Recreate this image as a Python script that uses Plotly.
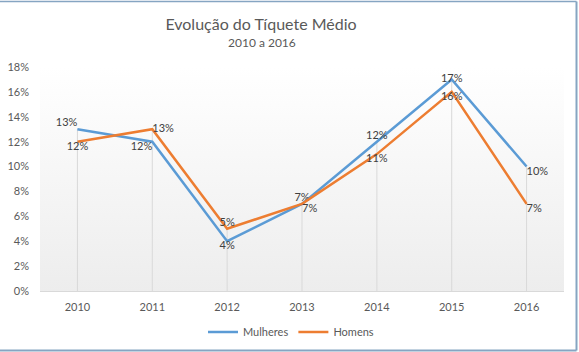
import base64
import numpy as np
import plotly.graph_objects as go

# ---- data ----
anos = ["2010", "2011", "2012", "2013", "2014", "2015", "2016"]
mulheres = [0.13, 0.12, 0.04, 0.07, 0.12, 0.17, 0.10]
homens = [0.12, 0.13, 0.05, 0.07, 0.11, 0.16, 0.07]
y_ticks = [0.0, 0.02, 0.04, 0.06, 0.08, 0.10, 0.12, 0.14, 0.16, 0.18]
y_tick_labels = ["0%", "2%", "4%", "6%", "8%", "10%", "12%", "14%", "16%", "18%"]

# label placement (style)
pos_mulheres = ["top left", "bottom left", "bottom center", "top center",
                "top center", "middle center", "bottom right"]
pos_homens = ["bottom center", "middle right", "top center", "bottom right",
              "bottom center", "bottom center", "bottom right"]

FONT = "Lato"
TXT = "#595959"
LBL = "#404040"

W, H = 579, 352
ML, MR, MT, MB = 40, 15, 67, 61
PW = W - ML - MR
PH = H - MT - MB

def px_to_paper_x(px):
    return (px - ML) / PW

def px_to_paper_y(py):
    return (H - MB - py) / PH

fig = go.Figure()

# drop lines from 0 to max of the series at each category
topo = np.maximum(mulheres, homens)
dx, dy = [], []
for a, t in zip(anos, topo):
    dx += [a, a, None]
    dy += [0, t, None]
fig.add_trace(go.Scatter(x=dx, y=dy, mode="lines",
                         line=dict(color="#d9d9d9", width=1),
                         hoverinfo="skip", showlegend=False))

fig.add_trace(go.Scatter(
    x=anos, y=mulheres, name="Mulheres", mode="lines+text",
    line=dict(color="#5b9bd5", width=2.5),
    text=[f"{v*100:.0f}%" for v in mulheres],
    textposition=pos_mulheres,
    textfont=dict(family=FONT, size=11, color=LBL),
))
fig.add_trace(go.Scatter(
    x=anos, y=homens, name="Homens", mode="lines+text",
    line=dict(color="#ed7d31", width=2.5),
    text=[f"{v*100:.0f}%" for v in homens],
    textposition=pos_homens,
    textfont=dict(family=FONT, size=11, color=LBL),
))

# gradient background for plot area
svg = ('<svg xmlns="http://www.w3.org/2000/svg" width="100" height="100" preserveAspectRatio="none">'
       '<defs><linearGradient id="g" x1="0" y1="0" x2="0" y2="1">'
       '<stop offset="0" stop-color="#ffffff"/><stop offset="1" stop-color="#ededed"/>'
       '</linearGradient></defs><rect width="100" height="100" fill="url(#g)"/></svg>')
src = "data:image/svg+xml;base64," + base64.b64encode(svg.encode()).decode()

BORDER = "#86a5c2"
xl, xr = px_to_paper_x(-2), px_to_paper_x(576.5)
yt, yb = px_to_paper_y(1.5), px_to_paper_y(350.5)
border = [
    dict(type="line", xref="paper", yref="paper", x0=xl, x1=xr, y0=yt, y1=yt,
         line=dict(color=BORDER, width=1.5)),
    dict(type="line", xref="paper", yref="paper", x0=xr, x1=xr, y0=yt, y1=yb,
         line=dict(color=BORDER, width=2)),
    dict(type="line", xref="paper", yref="paper", x0=xl, x1=xr, y0=yb, y1=yb,
         line=dict(color=BORDER, width=2)),
]

fig.update_layout(
    width=W, height=H,
    margin=dict(l=ML, r=MR, t=MT, b=MB, autoexpand=False),
    paper_bgcolor="white",
    plot_bgcolor="rgba(0,0,0,0)",
    font=dict(family=FONT, size=11, color=TXT),
    title=dict(text="Evolução do Tíquete Médio",
               font=dict(family=FONT, size=16, color=TXT),
               x=px_to_paper_x(261), xref="paper", xanchor="center",
               y=1 - 24 / H, yref="container", yanchor="middle"),
    annotations=[dict(text="2010 a 2016", showarrow=False,
                      x=px_to_paper_x(262), y=px_to_paper_y(43),
                      xref="paper", yref="paper", xanchor="center", yanchor="middle",
                      font=dict(family=FONT, size=12, color=TXT))],
    images=[dict(source=src, xref="paper", yref="paper", x=0, y=1,
                 sizex=1, sizey=1, xanchor="left", yanchor="top",
                 sizing="stretch", layer="below")],
    shapes=border,
    xaxis=dict(type="category", range=[-0.5, 6.5], showgrid=False,
               showline=True, linecolor="#d9d9d9", linewidth=1,
               ticks="", tickfont=dict(family=FONT, size=11, color=TXT),
               ticklabelstandoff=6, zeroline=False),
    yaxis=dict(range=[0, 0.18], tickvals=y_ticks, ticktext=y_tick_labels,
               showgrid=False, showline=False, zeroline=False, ticks="",
               tickfont=dict(family=FONT, size=11, color=TXT),
               ticklabelstandoff=10),
    legend=dict(orientation="h", x=px_to_paper_x(291), xanchor="center",
                y=1 - 332 / H, yref="container", yanchor="middle",
                font=dict(family=FONT, size=11, color=TXT),
                bgcolor="rgba(0,0,0,0)"),
    showlegend=True,
)

fig.write_html("out.html")
